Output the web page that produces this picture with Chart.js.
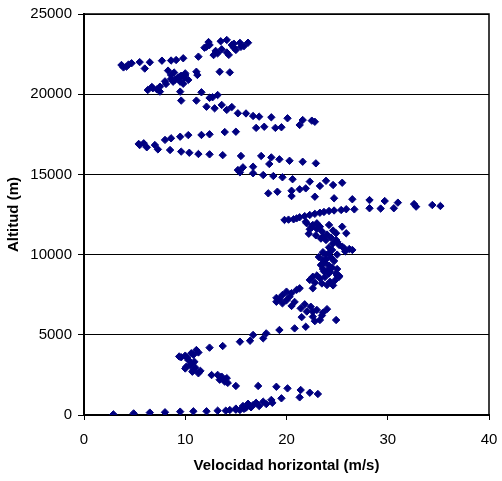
<!DOCTYPE html>
<html>
<head>
<meta charset="utf-8">
<script src="https://cdn.jsdelivr.net/npm/chart.js@4/dist/chart.umd.min.js"></script>
<style>
html,body{margin:0;padding:0;background:#fff;}
#wrap{width:502px;height:481px;position:relative;}
</style>
</head>
<body>
<div id="wrap"><canvas id="c" width="502" height="481"></canvas></div>
<script>
// Horizontal speed (m/s)
const speed = [
16.2,15.4,14.1,14.6,15.0,14.1,13.2,12.4,12.1,12.8,13.6,14.8,
13.5,14.8,15.8,13.0,11.9,14.3,15.5,12.3,
11.3,9.8,9.1,8.6,7.7,6.5,5.5,6.0,4.7,4.2,3.7,3.9,4.4,
8.3,8.6,9.5,10.0,11.1,11.2,13.4,14.4,10.3,9.5,8.8,8.1,7.5,6.8,6.3,7.5,9.0,9.9,
8.0,8.6,9.3,9.8,7.2,6.7,10.0,8.9,9.6,
9.5,11.6,13.2,12.7,12.4,9.6,11.1,12.1,12.9,13.6,14.1,14.6,
15.2,16.0,16.7,17.3,18.5,20.1,21.6,22.8,22.5,
21.3,19.5,18.9,17.8,17.0,15.0,13.9,12.4,11.6,10.3,9.5,8.6,8.0,7.0,5.9,5.4,
5.5,6.2,7.3,8.5,9.6,10.4,11.3,12.4,13.7,15.5,17.5,18.5,19.3,20.3,21.6,22.9,
18.3,16.7,15.7,15.2,15.4,16.7,17.7,18.7,19.6,20.6,22.3,23.9,25.5,
24.6,23.3,21.9,21.3,20.5,19.1,18.2,
20.5,22.8,24.7,26.5,28.2,29.7,31.0,32.6,34.4,35.2,
32.8,30.6,29.3,28.2,26.7,25.4,24.2,23.3,22.3,21.3,20.7,19.8,
20.2,21.0,21.8,22.8,23.7,24.7,25.9,
21.9,22.6,22.3,23.3,24.2,25.5,25.9,24.9,23.6,23.9,24.9,25.2,25.7,26.5,24.5,
23.0,24.6,22.2,24.2,25.0,24.4,
22.0,22.5,23.0,23.5,22.9,23.4,24.0,24.4,25.0,24.6,25.5,24.2,25.8,26.2,23.6,
23.9,23.6,23.4,24.1,24.9,25.2,22.6,23.8,24.5,23.7,
23.2,23.9,24.7,23.5,24.2,25.0,23.6,24.3,
25.2,24.2,23.3,22.3,24.0,24.6,22.6,21.3,20.0,19.6,20.3,19.0,19.6,20.5,21.4,22.6,23.6,
23.0,23.8,24.8,22.8,23.5,24.3,25.0,
21.0,20.5,19.3,20.0,20.8,19.0,
21.8,22.4,23.0,22.0,23.5,24.0,21.5,22.8,
22.6,23.3,24.9,21.9,20.8,19.3,18.0,17.7,16.7,16.4,15.4,13.7,12.4,11.1,10.6,
9.6,10.0,10.3,10.9,10.6,10.1,11.0,10.8,11.3,12.6,13.6,13.4,14.1,13.9,
9.4,10.2,10.8,11.3,10.5,10.0,10.7,11.5,
13.2,13.8,14.2,13.5,
15.0,17.2,19.0,20.1,21.4,22.3,23.1,21.3,19.5,18.5,17.7,16.7,17.0,16.2,15.7,
16.0,15.0,15.4,14.4,13.2,12.1,10.8,9.5,8.0,6.5,4.9,2.9,
14.0,15.0,15.8,16.5,17.3,18.0,18.6
];
// Altitude (m)
const altitude = [
23210,23200,23380,23070,22760,22600,22550,23070,22960,22440,22800,22900,
23300,23150,23000,22700,22900,22450,22950,23250,
22340,22240,22130,22100,22090,21990,22000,21600,21930,21720,21820,21670,21850,
21470,21200,21100,21200,21400,21200,21400,21360,20890,20780,20780,20640,20470,20370,20260,20160,20900,21000,
20800,20950,21050,20650,20300,20450,21300,21350,21150,
20160,20120,19950,19810,19770,19600,19600,19220,19120,19330,19020,19200,
18810,18800,18640,18600,18560,18500,18390,18280,18350,
18080,17940,17900,17970,17900,17660,17640,17500,17460,17450,17350,17250,17150,16830,16940,16900,
16830,16690,16560,16520,16420,16350,16270,16250,16200,16150,16150,16060,15940,15850,15790,15690,
15650,15480,15440,15270,15130,15070,14960,14900,14820,14700,14550,14600,14480,
14340,14280,14130,14070,13980,13920,13820,
13650,13610,13510,13450,13400,13340,13240,13150,13090,13030,
12990,12890,12870,12890,12820,12780,12720,12610,12470,12330,12200,12160,
12180,12260,12400,12540,12660,12750,12830,
12050,11850,11580,11740,11850,11740,11330,11330,11120,10910,10910,10600,10390,10290,10290,
11950,11500,11300,10100,10000,9800,
11950,11700,11600,11450,11200,11000,11250,11050,10800,10700,10500,10450,10200,10350,10150,
9980,9660,9350,9040,8830,8620,8620,9500,9200,8950,
9850,9700,9600,9400,9300,9100,9100,8950,
8670,8830,8520,8420,8100,8080,7900,7900,7690,7480,7380,7060,6960,6800,6650,6440,6380,
8700,8600,8400,8250,8200,8300,8700,
7800,7600,7250,7150,7050,7300,
6900,6750,6550,6450,6200,6600,6100,5850,
6130,5920,5920,5500,5400,5300,5090,4780,4990,4630,4570,4300,4200,4050,3850,
3600,3700,3430,3320,3200,3010,2950,2800,2600,2490,2390,2200,2300,2080,
3650,3550,3750,3900,3100,2900,2700,2750,
2500,2200,2000,2350,
1810,1810,1760,1660,1560,1390,1310,1100,1040,940,830,620,760,700,560,
450,400,310,310,270,230,230,210,170,150,100,40,
270,330,380,480,560,680,760
];
const xTicks = [0,10,20,30,40];
const yTicks = [0,5000,10000,15000,20000,25000];

const points = speed.map((v,i)=>({x:v, y:altitude[i]}));

const frame = {
  id:'frame',
  afterDatasetsDraw(chart){
    const {ctx, chartArea:a} = chart;
    ctx.save();
    ctx.strokeStyle = '#000';
    ctx.lineWidth = 1.5;
    ctx.beginPath();
    ctx.moveTo(a.left, a.top);
    ctx.lineTo(a.right, a.top);
    ctx.lineTo(a.right, a.bottom);
    ctx.stroke();
    ctx.restore();
  }
};

const font = {family:'"Liberation Sans", Arial, sans-serif', size:15};
const tfont = {family:'"Liberation Sans", Arial, sans-serif', size:15, weight:'bold'};

new Chart(document.getElementById('c'), {
  type:'scatter',
  data:{datasets:[{
    data:points,
    pointStyle:'rectRot',
    pointRadius:3.7,
    pointHoverRadius:3.7,
    backgroundColor:'#000080',
    borderColor:'#000080',
    borderWidth:1
  }]},
  options:{
    responsive:false,
    animation:false,
    events:[],
    layout:{padding:{left:0, top:14, right:13, bottom:0}},
    plugins:{legend:{display:false}, tooltip:{enabled:false}},
    scales:{
      x:{
        type:'linear', min:0, max:40,
        afterBuildTicks(s){ s.ticks = xTicks.map(v=>({value:v})); },
        afterFit(s){ s.height = 66; s.paddingLeft = 0; s.paddingRight = 0; },
        ticks:{color:'#000', font:font, padding:11, maxRotation:0, callback:v=>String(v)},
        grid:{drawOnChartArea:false, drawTicks:true, tickLength:5, color:'#000', lineWidth:1},
        border:{display:true, color:'#000', width:2},
        title:{display:true, text:'Velocidad horizontal (m/s)', color:'#000', font:tfont, padding:{top:0,bottom:6}}
      },
      y:{
        type:'linear', min:0, max:25000,
        afterBuildTicks(s){ s.ticks = yTicks.map(v=>({value:v})); },
        afterFit(s){ s.width = 84; s.paddingTop = 0; s.paddingBottom = 0; },
        ticks:{color:'#000', font:font, padding:6, callback:v=>String(v)},
        grid:{drawOnChartArea:true, drawTicks:true, tickLength:6, color:'#000', lineWidth:1},
        border:{display:true, color:'#000', width:2},
        title:{display:true, text:'Altitud (m)', color:'#000', font:tfont, padding:{top:5,bottom:0}}
      }
    }
  },
  plugins:[frame]
});
</script>
</body>
</html>
